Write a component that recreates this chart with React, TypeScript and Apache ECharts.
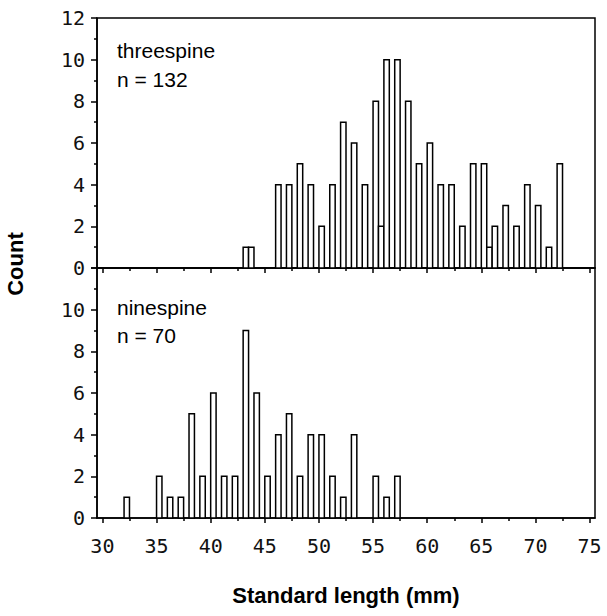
import React, { useEffect, useRef } from "react";
import * as echarts from "echarts";

// Threespine stickleback: standard length (mm) bins and counts
const threeLengths = [43, 43.5, 46, 47, 48, 49, 50, 51, 52, 53, 54, 55, 55.5, 56, 57, 58, 59, 60, 61, 62, 63, 64, 65, 65.5, 66, 67, 68, 69, 70, 71, 72];
const threeCounts = [1, 1, 4, 4, 5, 4, 2, 4, 7, 6, 4, 8, 2, 10, 10, 8, 5, 6, 4, 4, 2, 5, 5, 1, 2, 3, 2, 4, 3, 1, 5];

// Ninespine stickleback
const nineLengths = [32, 35, 36, 37, 38, 39, 40, 41, 42, 43, 44, 45, 46, 47, 48, 49, 50, 51, 52, 53, 55, 56, 57];
const nineCounts = [1, 2, 1, 1, 5, 2, 6, 2, 2, 9, 6, 2, 4, 5, 2, 4, 4, 2, 1, 4, 2, 1, 2];

const xMajorTicks = [30, 35, 40, 45, 50, 55, 60, 65, 70, 75];
const xMinorTicks = [32.5, 37.5, 42.5, 47.5, 52.5, 57.5, 62.5, 67.5, 72.5];
const BIN = 0.5;

const MONO = '"DejaVu Sans Mono", monospace';
const SANS = '"Liberation Sans", Arial, sans-serif';

function renderBar(params: any, api: any) {
  const x = api.value(0);
  const y = api.value(1);
  const p0 = api.coord([x, 0]);
  const p1 = api.coord([x + BIN, y]);
  return {
    type: "rect",
    shape: { x: p0[0], y: p1[1], width: p1[0] - p0[0], height: p0[1] - p1[1] },
    style: { fill: "#ffffff", stroke: "#000000", lineWidth: 1.5 },
  };
}

function xAxisPair(gridIndex: number, showLabels: boolean) {
  const base = {
    type: "value",
    gridIndex,
    position: "bottom",
    min: 29.5,
    max: 75.5,
    splitLine: { show: false },
  };
  return [
    {
      ...base,
      axisLine: { show: true, lineStyle: { color: "#000", width: 1.5 } },
      axisTick: { show: true, inside: false, length: 5, customValues: xMajorTicks, lineStyle: { color: "#000", width: 1.5 } },
      axisLabel: {
        show: showLabels,
        customValues: xMajorTicks,
        margin: 18,
        fontFamily: MONO,
        fontSize: 20,
        color: "#111",
      },
    },
    {
      ...base,
      axisLine: { show: false },
      axisTick: { show: true, inside: false, length: 3, customValues: xMinorTicks, lineStyle: { color: "#000", width: 1.5 } },
      axisLabel: { show: false },
    },
  ];
}

function yAxisFor(gridIndex: number, hideTop: boolean) {
  return {
    type: "value",
    gridIndex,
    min: 0,
    max: 12,
    interval: 2,
    splitLine: { show: false },
    axisLine: { show: true, lineStyle: { color: "#000", width: 1.5 } },
    axisTick: { show: true, inside: false, length: 6, lineStyle: { color: "#000", width: 1.5 } },
    minorTick: { show: true, splitNumber: 2, length: 3, lineStyle: { color: "#000", width: 1.5 } },
    axisLabel: {
      margin: 12,
      fontFamily: MONO,
      fontSize: 20,
      color: "#111",
      formatter: (v: number) => (hideTop && v === 12 ? "" : String(v)),
    },
  };
}

export default function App() {
  const ref = useRef<HTMLDivElement>(null);

  useEffect(() => {
    if (!ref.current) return;
    const chart = echarts.init(ref.current, null, { renderer: "svg" });
    const gridStyle = { show: true, borderColor: "#000", borderWidth: 1.5, backgroundColor: "transparent" };
    chart.setOption({
      animation: false,
      backgroundColor: "#ffffff",
      grid: [
        { left: 97, top: 18, width: 498, height: 250, ...gridStyle },
        { left: 97, top: 268, width: 498, height: 250, ...gridStyle },
      ],
      xAxis: [...xAxisPair(0, false), ...xAxisPair(1, true)],
      yAxis: [yAxisFor(0, false), yAxisFor(1, true)],
      series: [
        {
          type: "custom",
          name: "threespine",
          xAxisIndex: 0,
          yAxisIndex: 0,
          renderItem: renderBar,
          encode: { x: 0, y: 1 },
          data: threeLengths.map((x, i) => [x, threeCounts[i]]),
        },
        {
          type: "custom",
          name: "ninespine",
          xAxisIndex: 2,
          yAxisIndex: 1,
          renderItem: renderBar,
          encode: { x: 0, y: 1 },
          data: nineLengths.map((x, i) => [x, nineCounts[i]]),
        },
      ],
      graphic: [
        { type: "text", left: 117, top: 40, style: { text: "threespine", font: `21px ${SANS}`, fill: "#000" } },
        { type: "text", left: 117, top: 69, style: { text: "n = 132", font: `21px ${SANS}`, fill: "#000" } },
        { type: "text", left: 117, top: 297, style: { text: "ninespine", font: `21px ${SANS}`, fill: "#000" } },
        { type: "text", left: 117, top: 325, style: { text: "n = 70", font: `21px ${SANS}`, fill: "#000" } },
        {
          type: "text",
          x: 15,
          y: 264,
          rotation: Math.PI / 2,
          style: { text: "Count", font: `bold 22px ${SANS}`, fill: "#000", align: "center", verticalAlign: "middle" },
        },
        {
          type: "text",
          x: 346,
          y: 595,
          style: { text: "Standard length (mm)", font: `bold 22px ${SANS}`, fill: "#000", align: "center", verticalAlign: "middle" },
        },
      ],
    });
    return () => chart.dispose();
  }, []);

  return <div ref={ref} style={{ position: "absolute", left: 0, top: 0, width: 607, height: 616 }} />;
}
